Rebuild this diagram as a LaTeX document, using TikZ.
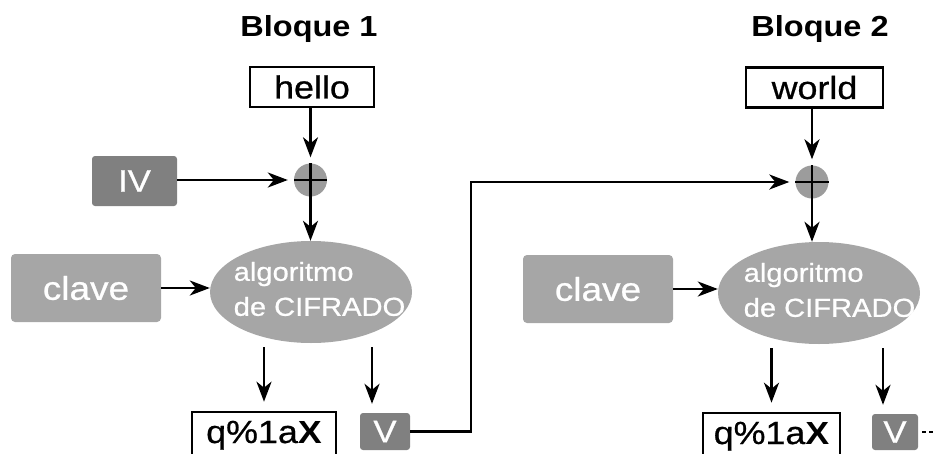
\documentclass[tikz,border=0pt]{standalone}
\usepackage{fontspec}
\setmainfont[FakeStretch=1.12, UprightFeatures={FakeBold=0.7}]{Liberation Sans}
\usetikzlibrary{arrows.meta,shapes.geometric,calc}
\definecolor{ivgray}{HTML}{808080}
\definecolor{keygray}{HTML}{A6A6A6}
\definecolor{xorgray}{HTML}{9C9C9C}

\begin{document}
\begin{tikzpicture}[x=1pt,y=-1pt,
  title/.style={font=\bfseries\fontsize{29}{30}\selectfont},
  plainbox/.style={draw=black, line width=2.6pt, fill=white, inner sep=0pt,
    font=\fontsize{32}{34}\selectfont},
  outbox/.style={plainbox, anchor=base, inner ysep=0pt, text height=31pt,
    text depth=13pt},
  darkbox/.style={fill=ivgray, rounded corners=3pt, inner sep=0pt, text=white,
    font=\fontsize{31}{33}\selectfont},
  keybox/.style={fill=keygray, rounded corners=4pt, inner sep=0pt, text=white,
    font=\fontsize{33}{35}\selectfont},
  cipher/.style={ellipse, fill=keygray, inner sep=0pt,
    minimum width=202pt, minimum height=102pt},
  ciphertext/.style={text=white, align=left, inner sep=0pt,
    font=\fontsize{26}{35}\selectfont},
  xorop/.style={circle, fill=xorgray, minimum size=33pt, inner sep=0pt},
  arr/.style={line width=2.7pt, -{Stealth[length=20pt,width=15pt,inset=6pt]}}
]
\useasboundingbox (0,0) rectangle (937,453);

% ---------- block 1 ----------
\node[title] (t1) at (309,29) {Bloque 1};
\node[plainbox, minimum width=124pt, minimum height=40pt] (hello) at (312,87) {hello};
\node[xorop] (x1) at (310.5,180) {};
\draw[line width=2.6pt] (x1.north) -- (x1.south) (x1.west) -- (x1.east);
\node[darkbox, minimum width=85pt, minimum height=50pt] (iv) at (134.5,181) {IV};
\node[keybox, minimum width=150pt, minimum height=68pt] (clave1) at (86,288) {clave};
\node[cipher] (ell1) at (311,292) {};
\node[ciphertext] (alg1) at (319.5,289) {algoritmo\\de CIFRADO};
\node[outbox, minimum width=144pt] (q1) at (264,443) {q\%1a\textbf{X}};
\node[darkbox, minimum width=50pt, minimum height=37pt] (v1) at (385,431.5) {V};

\draw[arr, shorten >=6pt] (hello.south -| x1) -- (x1);
\draw[arr, shorten >=6pt] (iv.east |- x1) -- (x1);
\draw[arr] (x1) -- (x1 |- ell1.north);
\draw[arr] (clave1.east) -- (clave1.east -| ell1.west);
\draw[arr, shorten <=4pt, shorten >=9pt] (q1.north |- ell1.south) -- (q1.north);
\coordinate (d1) at (372,343);
\draw[arr, shorten <=4pt, shorten >=9pt] (d1) -- (d1 |- v1.north);

% ---------- block 2 ----------
\node[title] (t2) at (820,29) {Bloque 2};
\node[plainbox, minimum width=137pt, minimum height=40pt] (world) at (814.5,87.5) {world};
\node[xorop] (x2) at (812,182) {};
\draw[line width=2.6pt] (x2.north) -- (x2.south) (x2.west) -- (x2.east);
\node[keybox, minimum width=150pt, minimum height=68pt] (clave2) at (598,289) {clave};
\node[cipher] (ell2) at (819,293) {};
\node[ciphertext] (alg2) at (829.5,290) {algoritmo\\de CIFRADO};
\node[outbox, minimum width=137pt] (q2) at (771.5,444) {q\%1a\textbf{X}};
\node[darkbox, minimum width=46pt, minimum height=36pt] (v2) at (895,432) {V};

\draw[arr, shorten >=6pt] (world.south -| x2) -- (x2);
\draw[arr] (x2.south) -- (x2.south |- ell2.north);
\draw[arr] (clave2.east) -- (clave2.east -| ell2.west);
\draw[arr, shorten <=4pt, shorten >=9pt] (q2.north |- ell2.south) -- (q2.north);
\coordinate (d2) at (883,344);
\draw[arr, shorten <=4pt, shorten >=9pt] (d2) -- (d2 |- v2.north);

% chaining: V of block 1 feeds the XOR of block 2
\coordinate (bend) at (471,0);
\draw[arr, shorten >=6pt] (v1.east) -- (v1.east -| bend) |- (x2.west);

% continuation marks after the last V
\coordinate (more) at (936,432);
\draw[line width=2.4pt, dash pattern=on 4pt off 3pt] ($(v2.east)+(4,0)$) -- (more);
\end{tikzpicture}
\end{document}
